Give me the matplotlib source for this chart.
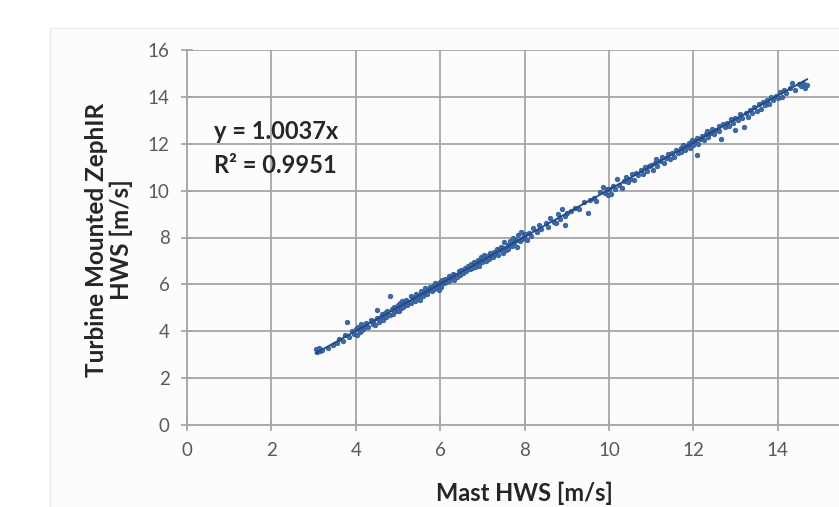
import numpy as np
import matplotlib
matplotlib.use("Agg")
import matplotlib.pyplot as plt
from matplotlib.patches import Rectangle

# scatter readings (mast HWS vs turbine mounted ZephIR HWS)
mast = [
    3.05, 3.08, 3.12, 3.15, 3.2, 3.35, 3.45, 3.55, 3.6, 3.7, 3.75, 3.8, 3.85, 3.9, 3.95,
    4.0, 4.02, 4.05, 4.1, 4.12, 4.15, 4.2, 4.25, 4.3, 4.35, 4.4, 4.42, 4.45, 4.5, 4.5,
    4.55, 4.6, 4.62, 4.65, 4.7, 4.72, 4.75, 4.8, 4.8, 4.85, 4.88, 4.9, 4.95, 4.97,
    5.0, 5.02, 5.05, 5.08, 5.1, 5.12, 5.15, 5.2, 5.22, 5.25, 5.3, 5.32, 5.35, 5.4, 5.42,
    5.45, 5.5, 5.52, 5.55, 5.6, 5.62, 5.65, 5.7, 5.72, 5.75, 5.8, 5.82, 5.85, 5.88, 5.9,
    5.95, 5.97,
    6.0, 6.02, 6.05, 6.1, 6.12, 6.15, 6.2, 6.22, 6.25, 6.3, 6.32, 6.35, 6.4, 6.45, 6.48,
    6.5, 6.55, 6.6, 6.62, 6.65, 6.7, 6.72, 6.75, 6.8, 6.82, 6.85, 6.9, 6.92, 6.95, 6.98,
    7.0, 7.02, 7.05, 7.08, 7.1, 7.15, 7.18, 7.2, 7.25, 7.28, 7.3, 7.35, 7.38, 7.4, 7.45,
    7.48, 7.5, 7.52, 7.55, 7.6, 7.62, 7.65, 7.7, 7.72, 7.75, 7.8, 7.82, 7.85, 7.9, 7.92,
    7.95, 7.98,
    8.0, 8.05, 8.1, 8.15, 8.2, 8.3, 8.35, 8.4, 8.5, 8.55, 8.6, 8.7, 8.75, 8.8, 8.85,
    8.9, 8.95, 8.97,
    9.0, 9.1, 9.2, 9.3, 9.4, 9.5, 9.55, 9.65, 9.7, 9.8, 9.85, 9.9, 9.95, 9.98,
    10.0, 10.05, 10.1, 10.15, 10.2, 10.25, 10.3, 10.35, 10.4, 10.45, 10.5, 10.55, 10.6,
    10.65, 10.7, 10.75, 10.8, 10.85, 10.9, 10.95,
    11.0, 11.05, 11.1, 11.12, 11.15, 11.2, 11.25, 11.3, 11.35, 11.4, 11.45, 11.5, 11.55,
    11.6, 11.65, 11.7, 11.72, 11.75, 11.8, 11.85, 11.9, 11.92, 11.95, 11.98,
    12.0, 12.05, 12.08, 12.1, 12.12, 12.15, 12.2, 12.25, 12.3, 12.32, 12.35, 12.4, 12.45,
    12.5, 12.55, 12.6, 12.62, 12.65, 12.7, 12.75, 12.8, 12.85, 12.9, 12.95, 12.98,
    13.0, 13.05, 13.1, 13.15, 13.2, 13.25, 13.3, 13.35, 13.4, 13.45, 13.5, 13.55, 13.6,
    13.65, 13.7, 13.75, 13.8, 13.85, 13.9, 13.95, 14.0, 14.05, 14.1, 14.15, 14.2, 14.3,
    14.35, 14.4, 14.5, 14.55, 14.6, 14.65, 14.7,
]
zephir = [
    3.25, 3.1, 3.3, 3.15, 3.2, 3.3, 3.4, 3.5, 3.65, 3.6, 3.85, 4.4, 3.75, 4.0, 3.9,
    4.1, 3.85, 4.2, 3.95, 4.3, 4.05, 4.15, 4.35, 4.2, 4.5, 4.3, 4.45, 4.25, 4.9, 4.55,
    4.4, 4.6, 4.75, 4.5, 4.8, 4.6, 4.85, 5.5, 4.7, 4.95, 4.75, 5.05, 4.85, 5.0,
    5.1, 4.85, 5.2, 5.0, 5.3, 5.05, 5.15, 5.35, 5.1, 5.25, 5.5, 5.2, 5.4, 5.3, 5.6,
    5.45, 5.55, 5.35, 5.7, 5.5, 5.65, 5.85, 5.6, 5.75, 5.9, 5.7, 5.95, 5.8, 6.05, 5.85,
    6.0, 5.75,
    6.1, 5.9, 6.2, 6.05, 6.25, 6.1, 6.35, 6.15, 6.3, 6.45, 6.2, 6.4, 6.3, 6.55, 6.4,
    6.6, 6.5, 6.7, 6.55, 6.8, 6.65, 6.85, 6.7, 6.95, 6.75, 6.9, 7.05, 6.8, 7.0, 7.15,
    6.95, 7.1, 7.25, 7.0, 7.2, 7.1, 7.35, 7.25, 7.15, 7.4, 7.3, 7.5, 7.25, 7.45, 7.6,
    7.35, 7.55, 7.8, 7.45, 7.7, 7.5, 7.85, 7.65, 8.0, 7.75, 7.9, 7.6, 8.1, 7.85, 8.25,
    7.95, 8.05,
    8.15, 7.9, 8.2, 8.05, 8.4, 8.25, 8.55, 8.35, 8.6, 8.45, 8.85, 8.65, 8.6, 9.0, 8.8,
    9.2, 8.9, 8.55,
    9.05, 9.15, 9.25, 9.2, 9.5, 9.05, 9.6, 9.7, 9.55, 9.95, 10.15, 9.9, 10.05, 9.8,
    10.05, 9.85, 10.2, 10.05, 10.5, 10.25, 10.1, 10.4, 10.6, 10.35, 10.5, 10.7, 10.45,
    10.75, 10.65, 10.9, 10.7, 11.0, 10.85, 11.05,
    11.1, 10.9, 11.2, 11.35, 11.05, 11.25, 11.45, 11.2, 11.4, 11.55, 11.35, 11.6, 11.45,
    11.75, 11.6, 11.8, 11.65, 11.95, 11.75, 11.9, 12.05, 11.8, 12.0, 12.15,
    11.95, 12.1, 12.25, 11.5, 12.0, 12.2, 12.35, 12.15, 12.4, 12.55, 12.3, 12.45, 12.65,
    12.4, 12.6, 12.75, 12.55, 12.2, 12.85, 12.7, 12.9, 12.75, 13.05, 12.9, 12.6,
    13.1, 13.0, 13.25, 13.1, 12.7, 13.3, 13.15, 13.45, 13.3, 13.55, 13.4, 13.7, 13.5,
    13.8, 13.65, 13.85, 13.7, 14.0, 13.85, 14.05, 13.95, 14.2, 14.0, 14.3, 14.15, 14.4,
    14.6, 14.3, 14.55, 14.45, 14.6, 14.4, 14.5,
]

slope = 1.0037
r2 = 0.9951

x_ticks = [0, 2, 4, 6, 8, 10, 12, 14, 16]
x_tick_labels = ["0", "2", "4", "6", "8", "10", "12", "14", ""]  # 16 is cropped off
y_ticks = [0, 2, 4, 6, 8, 10, 12, 14, 16]

fig = plt.figure(figsize=(8.39, 5.07), dpi=100)
fig.patch.set_facecolor("white")
# faint chart-area frame (the picture is cropped on the right/bottom)
fig.patches.append(Rectangle((50 / 839, -0.1), 1.2, 1 - 28 / 507 + 0.1,
                             transform=fig.transFigure, facecolor="#fcfcfc",
                             edgecolor="#ececec", lw=1, zorder=-10))

ax = fig.add_axes([187 / 839, 82 / 507, 675 / 839, 375 / 507])
ax.set_facecolor("none")
ax.set_zorder(5)

grid_c = "#a6a6a6"
ax.set_xlim(0, 16)
ax.set_ylim(0, 16)
ax.set_xticks(x_ticks)
ax.set_xticklabels(x_tick_labels)
ax.set_yticks(y_ticks)
ax.grid(True, color=grid_c, lw=1.3)
ax.set_axisbelow(True)
for s in ["top", "right"]:
    ax.spines[s].set_visible(False)
for s in ["left", "bottom"]:
    ax.spines[s].set_color(grid_c)
    ax.spines[s].set_linewidth(1.3)
ax.tick_params(direction="inout", length=9, width=1.3, color=grid_c,
               labelsize=13.5, labelcolor="#595959", pad=8)
for lab in ax.get_xticklabels() + ax.get_yticklabels():
    lab.set_family("Lato")

mast = np.array(mast)
zephir = np.array(zephir)
ax.scatter(mast, zephir, s=11, color="#3d6aab", edgecolors="#2d5690",
           linewidths=0.5, zorder=3)

xl = np.array([mast.min(), mast.max()])
ax.plot(xl, slope * xl, color="#234a80", lw=1.3, zorder=4)

ax.text(0.65, 12.2, f"y = {slope:.4f}x", fontsize=17, fontweight="bold",
        family="Lato", color="#262626")
ax.text(0.65, 10.75, f"R² = {r2:.4f}", fontsize=17, fontweight="bold",
        family="Lato", color="#262626")

fig.text(524 / 839, 1 - 493 / 507, "Mast HWS [m/s]", ha="center", va="center",
         fontsize=17, fontweight="bold", family="Lato", color="#262626")
fig.text(109 / 839, 1 - 240 / 507, "Turbine Mounted ZephIR\nHWS [m/s]",
         rotation=90, ha="center", va="center", fontsize=17.5, fontweight="bold",
         family="Lato", color="#262626", linespacing=1.1)

fig.savefig("out.png", dpi=100)
